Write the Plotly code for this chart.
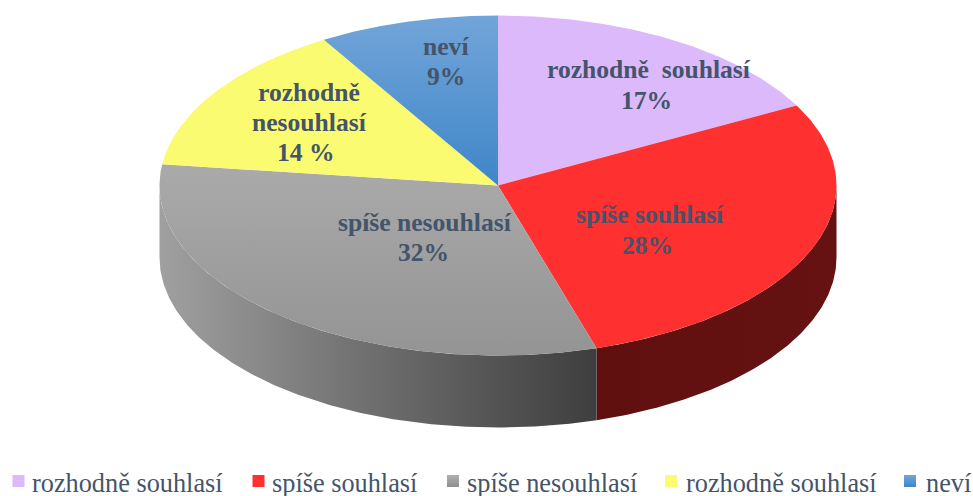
import numpy as np
import plotly.graph_objects as go

categories = ["rozhodně souhlasí", "spíše souhlasí", "spíše nesouhlasí", "rozhodně nesouhlasí", "neví"]
# slice sizes as drawn; the printed labels round them to 17, 28, 32, 14, 9
values = [17.2, 28.1, 31.7, 14.4, 8.6]
slice_lines = [
    ["rozhodně  souhlasí", "17%"],
    ["spíše souhlasí", "28%"],
    ["spíše nesouhlasí", "32%"],
    ["rozhodně", "nesouhlasí", "14 %"],
    ["neví", "9%"],
]
legend_labels = ["rozhodně souhlasí", "spíše souhlasí", "spíše nesouhlasí", "rozhodně souhlasí", "neví"]

TEXT_COLOR = "#44546a"
FONT = "Liberation Serif"

# pie geometry in page pixels
CX, CY = 498, 185.5
RX, RY = 338.5, 170
DEPTH = 72

top_scales = [
    [[0, "#dcb9fa"], [1, "#dcb9fa"]],
    [[0, "#fe3030"], [1, "#fe3030"]],
    [[0, "#949494"], [1, "#aaaaaa"]],
    [[0, "#fbfb72"], [1, "#fbfb72"]],
    [[0, "#3f86c8"], [1, "#72a5d9"]],
]
side_scales = [
    None,
    [[0, "#600f0f"], [1, "#661212"]],
    [[0, "#a0a0a0"], [0.45, "#727272"], [1, "#3e3e3e"]],
    None,
    None,
]
label_x = [[649, 646], [650, 647], [425, 423], [309, 309, 306], [446, 446]]
label_y = [[69, 100], [214, 245], [222, 252], [92, 122, 152], [46, 76]]
swatch_x = [18.5, 258.5, 453, 671, 910]
swatch_colors = [("#dcb9fa", "#dcb9fa"), ("#fe3030", "#fe3030"), ("#b0b0b0", "#8e8e8e"), ("#fbfb72", "#fbfb72"), ("#72a5d9", "#3f86c8")]
legend_text_x = [32, 272, 467, 686, 926]
LEGEND_Y = 485


def rim(a0, a1, dy=0):
    t = np.linspace(a0, a1, 160)
    return CX + RX * np.sin(t), CY + dy - RY * np.cos(t)


edges = np.cumsum([0] + values) / sum(values) * 2 * np.pi

fig = go.Figure()

# front wall, only the part of each slice that faces the viewer
for i, scale in enumerate(side_scales):
    a0, a1 = max(edges[i], np.pi / 2), min(edges[i + 1], 3 * np.pi / 2)
    if scale is None or a1 <= a0:
        continue
    xt, yt = rim(a0, a1)
    xb, yb = rim(a0, a1, DEPTH)
    fig.add_trace(
        go.Scatter(
            x=np.r_[xt, xb[::-1]],
            y=np.r_[yt, yb[::-1]],
            mode="lines",
            line=dict(width=0),
            fill="toself",
            fillgradient=dict(type="horizontal", colorscale=scale),
            hoverinfo="skip",
            showlegend=False,
        )
    )

for i, cat in enumerate(categories):
    xs, ys = rim(edges[i], edges[i + 1])
    fig.add_trace(
        go.Scatter(
            x=np.r_[CX, xs, CX],
            y=np.r_[CY, ys, CY],
            mode="lines",
            line=dict(width=0),
            fill="toself",
            fillgradient=dict(type="vertical", colorscale=top_scales[i]),
            name=cat,
            text=slice_lines[i][-1],
            hoverinfo="name+text",
            showlegend=False,
        )
    )
    for line, x, y in zip(slice_lines[i], label_x[i], label_y[i]):
        fig.add_annotation(
            x=x, y=y, text=f"<b>{line}</b>", showarrow=False,
            font=dict(family=FONT, size=25.6, color=TEXT_COLOR),
        )

# legend row drawn by hand, plotly's own legend can't get this spacing
for i, label in enumerate(legend_labels):
    fig.add_trace(
        go.Scatter(
            x=[swatch_x[i]],
            y=[481],
            mode="markers",
            marker=dict(
                symbol="square",
                size=12,
                color=swatch_colors[i][0],
                gradient=dict(type="vertical", color=swatch_colors[i][1]),
            ),
            hoverinfo="skip",
            showlegend=False,
        )
    )

fig.add_trace(
    go.Scatter(
        x=legend_text_x,
        y=[LEGEND_Y] * len(legend_labels),
        mode="text",
        text=legend_labels,
        textposition="middle right",
        textfont=dict(family=FONT, size=26.3, color=TEXT_COLOR),
        cliponaxis=False,
        hoverinfo="skip",
        showlegend=False,
    )
)

fig.update_layout(
    width=973,
    height=496,
    margin=dict(l=0, r=0, t=0, b=0),
    paper_bgcolor="white",
    plot_bgcolor="white",
    xaxis=dict(range=[0, 973], visible=False, fixedrange=True),
    yaxis=dict(range=[496, 0], visible=False, fixedrange=True),
)

# the default body margin pushes the figure off the window and brings up a scrollbar
fig.write_html(
    "out.html",
    config={"displayModeBar": False},
    post_script="document.body.style.margin = '0'; document.documentElement.style.overflow = 'hidden';",
)
